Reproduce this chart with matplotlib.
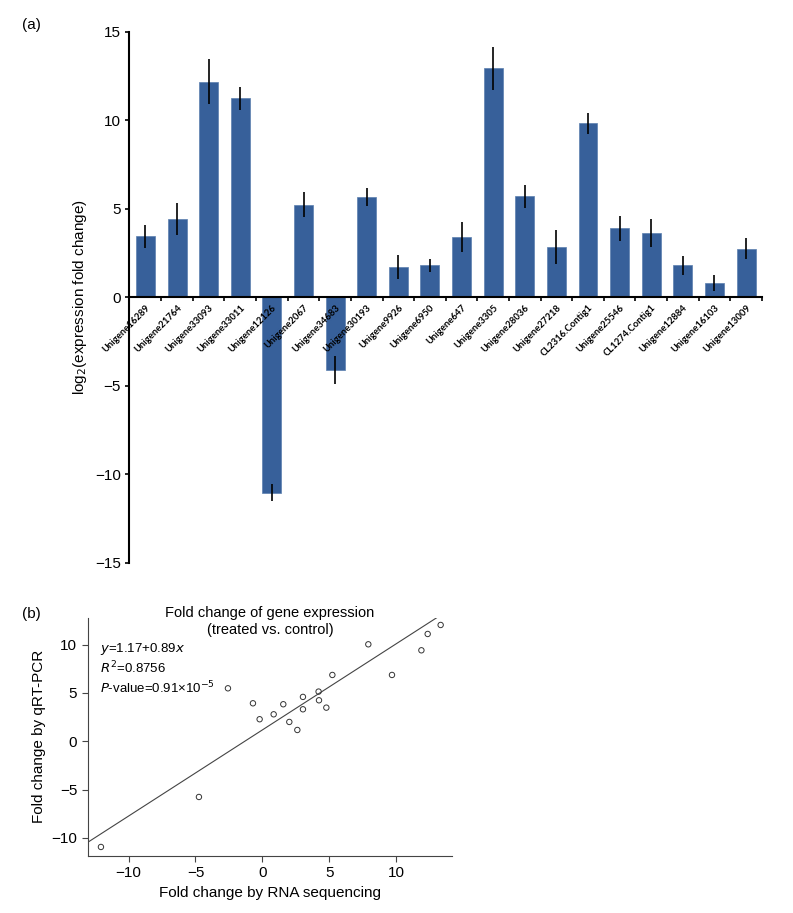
import numpy as np
import matplotlib.pyplot as plt

plt.rcParams['font.family'] = ['Liberation Sans', 'DejaVu Sans']

genes = ["Unigene16289", "Unigene21764", "Unigene33093", "Unigene33011",
         "Unigene12126", "Unigene2067", "Unigene34683", "Unigene30193",
         "Unigene9926", "Unigene6950", "Unigene647", "Unigene3305",
         "Unigene28036", "Unigene27218", "CL2316.Contig1", "Unigene25546",
         "CL1274.Contig1", "Unigene12884", "Unigene16103", "Unigene13009"]
log2fc = [3.45, 4.43, 12.19, 11.25, -11.04, 5.24, -4.1, 5.65, 1.73, 1.8,
          3.42, 12.94, 5.71, 2.83, 9.82, 3.9, 3.62, 1.8, 0.83, 2.74]
err = [0.65, 0.9, 1.25, 0.65, 0.48, 0.7, 0.8, 0.5, 0.68, 0.35,
       0.85, 1.22, 0.66, 0.95, 0.6, 0.7, 0.8, 0.56, 0.45, 0.6]

# scatter: RNA-seq vs qRT-PCR
rnaseq = [-12.07, -4.74, -2.57, -0.70, -0.2, 0.85, 1.57, 2.02, 2.62, 3.04,
          3.04, 4.21, 4.24, 4.79, 5.24, 9.7, 11.9, 12.37, 13.34, 7.93]
qpcr = [-10.93, -5.76, 5.48, 3.93, 2.28, 2.79, 3.83, 2.0, 1.17, 4.59,
        3.31, 5.14, 4.24, 3.48, 6.86, 6.86, 9.41, 11.1, 12.03, 10.03]
fit_a, fit_b = 1.17, 0.89

bar_color = '#37609a'

fig = plt.figure(figsize=(7.93, 9.13), dpi=100)

# ---- panel (a)
ax = fig.add_axes([0.1627, 0.3836, 0.798, 0.5816])
ax.set_axisbelow(False)
x = np.arange(len(genes))
ax.bar(x, log2fc, width=0.6, color=bar_color, edgecolor='#5b7fae', linewidth=0.5, zorder=2)
ax.errorbar(x, log2fc, yerr=err, fmt='none', ecolor='black', elinewidth=1.2, capsize=0, zorder=3)

ax.set_xlim(-0.52, 19.5)
ax.set_ylim(-15, 15)
ax.spines['top'].set_visible(False)
ax.spines['right'].set_visible(False)
ax.spines['bottom'].set_position(('data', 0))
ax.spines['left'].set_linewidth(1.5)
ax.spines['bottom'].set_linewidth(1.5)
ax.set_yticks([-15, -10, -5, 0, 5, 10, 15])
ax.tick_params(axis='y', direction='out', length=3, width=1.2, labelsize=11, pad=3)

ax.set_xticks(x)
ax.set_xticklabels(genes, rotation=45, ha='right', rotation_mode='anchor',
                   fontsize=6.8, fontweight='bold', family=['Lato', 'DejaVu Sans'])
ax.set_xticks(np.arange(len(genes)) + 0.5, minor=True)
ax.tick_params(axis='x', which='major', length=0, pad=4)
ax.tick_params(axis='x', which='minor', direction='out', length=3, width=1.2)
ax.set_ylabel("log$_2$(expression fold change)", fontsize=11, labelpad=4)

fig.text(0.028, 0.9726, "(a)", fontsize=11, va='center')

# ---- panel (b)
bx = fig.add_axes([0.1106, 0.0628, 0.4594, 0.2603])
bx.scatter(rnaseq, qpcr, s=15, facecolors='none', edgecolors='#333333', linewidths=0.7, zorder=3)
xl = (-13.06, 14.19)
yl = (-11.83, 12.75)
xx = np.array(xl)
bx.plot(xx, fit_a + fit_b * xx, color='#444444', lw=0.8, zorder=2)
bx.set_xlim(xl)
bx.set_ylim(yl)
bx.spines['top'].set_visible(False)
bx.spines['right'].set_visible(False)
for s in ['left', 'bottom']:
    bx.spines[s].set_linewidth(0.8)
    bx.spines[s].set_color('#444444')
bx.set_xticks([-10, -5, 0, 5, 10])
bx.set_yticks([-10, -5, 0, 5, 10])
bx.tick_params(direction='out', length=4, width=0.8, color='#444444', labelsize=11)
bx.set_xlabel("Fold change by RNA sequencing", fontsize=11)
bx.set_ylabel("Fold change by qRT-PCR", fontsize=11)
bx.text(0.5, 0.985, "Fold change of gene expression\n(treated vs. control)",
        transform=bx.transAxes, ha='center', va='center', fontsize=10.5, linespacing=1.25)

bx.text(0.034, 0.868, "$y$=1.17+0.89$x$", transform=bx.transAxes, fontsize=9.5, va='center')
bx.text(0.034, 0.791, "$R^2$=0.8756", transform=bx.transAxes, fontsize=9.5, va='center')
bx.text(0.034, 0.704, "$P$-value=0.91×10$^{-5}$", transform=bx.transAxes, fontsize=9.5, va='center')

fig.text(0.028, 0.328, "(b)", fontsize=11, va='center')

fig.savefig("out.png", dpi=100)
